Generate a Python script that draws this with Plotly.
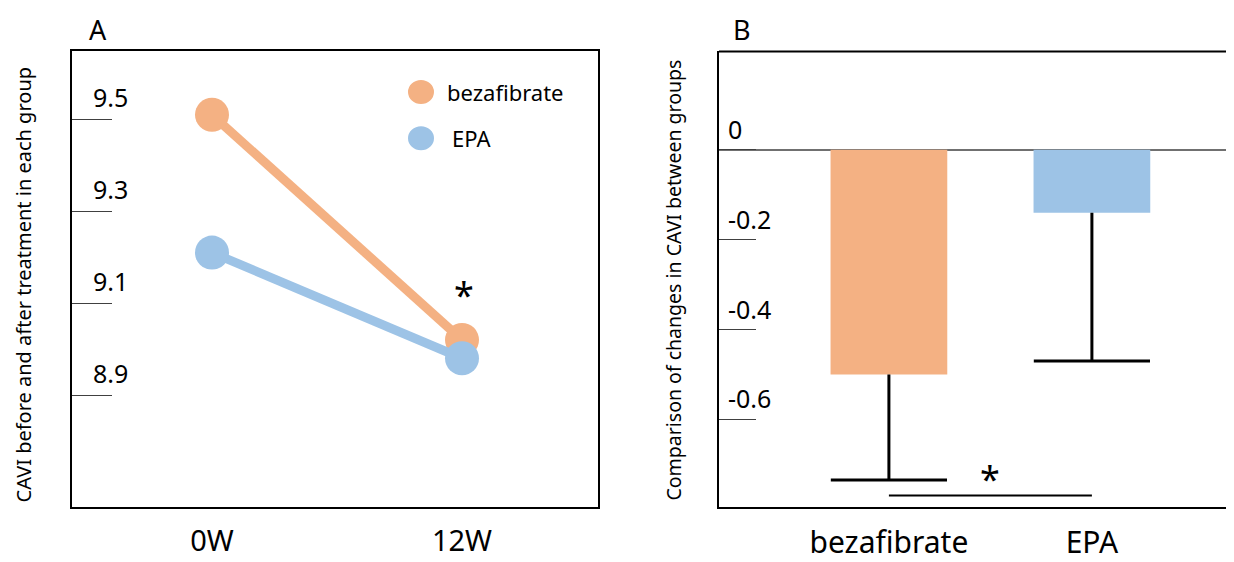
import plotly.graph_objects as go

# ---------------- data ----------------
# Panel A
time_points = ["0W", "12W"]
bezafibrate_cavi = [9.51, 9.02]
epa_cavi = [9.21, 8.98]
a_yticks = [8.9, 9.1, 9.3, 9.5]
a_ytick_labels = ["8.9", "9.1", "9.3", "9.5"]

# Panel B
groups = ["bezafibrate", "EPA"]
cavi_change = [-0.50, -0.14]
cavi_change_err = [0.235, 0.33]
b_yticks = [0, -0.2, -0.4, -0.6]
b_ytick_labels = ["0", "-0.2", "-0.4", "-0.6"]

series_names = ["bezafibrate", "EPA"]

ORANGE = "#F4B183"
BLUE = "#9DC3E6"
FONT = "Noto Sans"

# the page body has an 8px margin; size the figure so it fills the window
OFF = 8
FW, FH = 1234 - OFF, 562 - OFF


def px(x):
    return (x - OFF) / FW


def py(y):
    return 1 - (y - OFF) / FH


xa = list(range(len(time_points)))
xb = list(range(len(groups)))

fig = go.Figure()

# ---------------- Panel A ----------------
for name, vals, col in [(series_names[0], bezafibrate_cavi, ORANGE),
                        (series_names[1], epa_cavi, BLUE)]:
    fig.add_trace(go.Scatter(
        x=xa, y=vals, mode="lines+markers", name=name,
        line=dict(color=col, width=9),
        marker=dict(size=34, color=col),
        xaxis="x", yaxis="y", showlegend=False, hoverinfo="skip"))

# ---------------- Panel B ----------------
fig.add_trace(go.Bar(
    x=xb, y=cavi_change, width=0.575,
    marker=dict(color=[ORANGE, BLUE], line=dict(width=0)),
    error_y=dict(type="data", symmetric=False, array=[0] * len(xb),
                 arrayminus=cavi_change_err, width=0, thickness=3,
                 color="black"),
    xaxis="x2", yaxis="y2", showlegend=False, hoverinfo="skip"))

err_low = [v - e for v, e in zip(cavi_change, cavi_change_err)]
fig.add_trace(go.Scatter(
    x=xb, y=err_low, mode="markers",
    marker=dict(symbol="line-ew", size=83,
                line=dict(width=3, color="black")),
    xaxis="x2", yaxis="y2", showlegend=False, hoverinfo="skip"))

# ---------------- axes ----------------
dom_y = [py(513), py(52)]
fig.update_layout(
    width=FW, height=FH,
    margin=dict(l=0, r=0, t=0, b=0),
    paper_bgcolor="white", plot_bgcolor="white",
    font=dict(family=FONT, color="black"),
    xaxis=dict(domain=[px(72), px(598)], range=[-0.56, 1.544],
               tickvals=xa, ticktext=time_points, ticks="",
               tickfont=dict(size=29, color="black"), ticklabelstandoff=8,
               showline=True, mirror=True, linecolor="black", linewidth=2,
               showgrid=False, zeroline=False),
    yaxis=dict(domain=dom_y, range=[8.657, 9.648],
               tickvals=a_yticks, ticks="inside", ticklen=40,
               tickcolor="#404040", tickwidth=1, showticklabels=False,
               showline=True, mirror=True, linecolor="black", linewidth=2,
               showgrid=False, zeroline=False),
    xaxis2=dict(domain=[px(719), 1.0], range=[-0.837, 1.70],
                tickvals=xb, ticktext=groups, ticks="",
                tickfont=dict(size=30, color="black"), ticklabelstandoff=8,
                showline=True, linecolor="black", linewidth=2,
                showgrid=False, zeroline=False, anchor="y2"),
    yaxis2=dict(domain=dom_y, range=[-0.794, 0.219],
                tickvals=b_yticks, ticks="inside", ticklen=37,
                tickcolor="#404040", tickwidth=1, showticklabels=False,
                showline=True, linecolor="black", linewidth=2,
                showgrid=False, zeroline=True, zerolinecolor="#707070",
                zerolinewidth=1.5, anchor="x2"),
)

annotations = []
shapes = []

# tick labels inside the plot, above the tick lines
for v, lab in zip(a_yticks, a_ytick_labels):
    annotations.append(dict(xref="x domain", yref="y", x=0, y=v, text=lab,
                            showarrow=False, xanchor="left", yanchor="middle",
                            xshift=19, yshift=22, font=dict(size=25)))
for v, lab in zip(b_yticks, b_ytick_labels):
    annotations.append(dict(xref="x2 domain", yref="y2", x=0, y=v, text=lab,
                            showarrow=False, xanchor="left", yanchor="middle",
                            xshift=7, yshift=21, font=dict(size=25)))

# panel letters
annotations.append(dict(xref="paper", yref="paper", x=px(98), y=py(30),
                        xanchor="center", yanchor="middle",
                        text="A", showarrow=False, font=dict(size=27)))
annotations.append(dict(xref="paper", yref="paper", x=px(742), y=py(30),
                        xanchor="center", yanchor="middle",
                        text="B", showarrow=False, font=dict(size=27)))

# axis titles
annotations.append(dict(xref="paper", yref="paper", x=px(23), y=py(288),
                        xanchor="center", yanchor="middle",
                        text="CAVI before and after treatment in each group",
                        textangle=-90, showarrow=False, font=dict(size=20)))
annotations.append(dict(xref="paper", yref="paper", x=px(674), y=py(284),
                        xanchor="center", yanchor="middle",
                        text="Comparison of changes in CAVI between groups",
                        textangle=-90, showarrow=False, font=dict(size=19.5)))

# legend (panel A)
for i, (name, col, tx) in enumerate([(series_names[0], ORANGE, 445),
                                     (series_names[1], BLUE, 450)]):
    cy = py(93 + 47 * i)
    shapes.append(dict(type="circle", xref="paper", yref="paper",
                       xsizemode="pixel", ysizemode="pixel",
                       xanchor=px(421), yanchor=cy,
                       x0=-13, x1=13, y0=-12, y1=12,
                       fillcolor=col, line=dict(width=0)))
    annotations.append(dict(xref="paper", yref="paper", x=px(tx), y=cy,
                            text=name, showarrow=False, xanchor="left",
                            yanchor="middle", font=dict(size=22)))

# significance star, panel A
annotations.append(dict(xref="x", yref="y", x=xa[1], y=bezafibrate_cavi[1],
                        text="*", showarrow=False, xanchor="center",
                        yanchor="middle", yshift=45, xshift=2,
                        font=dict(size=36)))

# top border of panel B
shapes.append(dict(type="line", xref="x2 domain", yref="y2 domain",
                   x0=0, x1=1, y0=1, y1=1,
                   line=dict(color="black", width=2)))

# significance bracket, panel B
bracket_y = min(err_low) - 0.034
shapes.append(dict(type="line", xref="x2", yref="y2",
                   x0=xb[0], x1=xb[1], y0=bracket_y, y1=bracket_y,
                   line=dict(color="black", width=2)))
annotations.append(dict(xref="x2", yref="y2", x=(xb[0] + xb[1]) / 2,
                        y=bracket_y, text="*", showarrow=False,
                        xanchor="center", yanchor="middle", yshift=17,
                        font=dict(size=36)))

fig.update_layout(annotations=annotations, shapes=shapes)

fig.write_html("out.html")
